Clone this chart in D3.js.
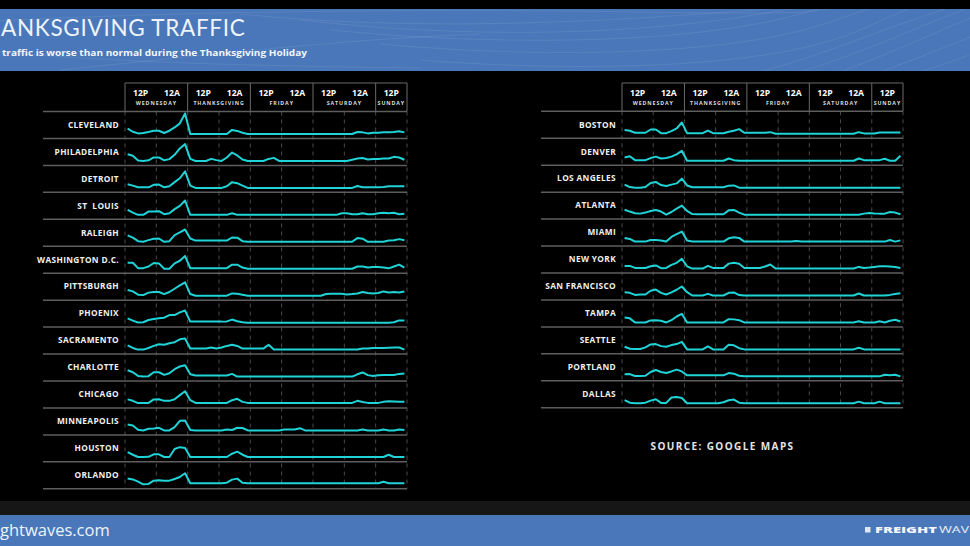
<!DOCTYPE html>
<html>
<head>
<meta charset="utf-8">
<script src="https://cdn.jsdelivr.net/npm/d3@7"></script>
<style>
  html, body { margin: 0; padding: 0; background: #000; overflow: hidden; }
  svg { display: block; }
</style>
</head>
<body>
<svg id="chart" width="970" height="546"></svg>
<script>
// Thanksgiving traffic - small multiples of congestion per city

// sample hours, every 2h from Wednesday morning to Sunday afternoon
const HOURS = [1, 3, 5, 7, 9, 11, 13, 15, 17, 19, 21, 23,
  25, 27, 29, 31, 33, 35, 37, 39, 41, 43, 45, 47,
  49, 51, 53, 55, 57, 59, 61, 63, 65, 67, 69, 71,
  73, 75, 77, 79, 81, 83, 85, 87, 89, 91, 93, 95,
  97, 99, 101, 103, 105, 107];

const GRID_HOURS = [0, 12, 24, 36, 48, 60, 72, 84, 96, 108];
const DAY_BOUNDS = [0, 24, 48, 72, 96, 108];
const TICK_HOURS = [6, 18, 30, 42, 54, 66, 78, 90, 102];
const TICK_LABELS = ['12P', '12A', '12P', '12A', '12P', '12A', '12P', '12A', '12P'];
const DAY_LABELS = ['WEDNESDAY', 'THANKSGIVING', 'FRIDAY', 'SATURDAY', 'SUNDAY'];

const LEFT_CITIES = ['CLEVELAND', 'PHILADELPHIA', 'DETROIT', 'ST  LOUIS', 'RALEIGH',
  'WASHINGTON D.C.', 'PITTSBURGH', 'PHOENIX', 'SACRAMENTO', 'CHARLOTTE',
  'CHICAGO', 'MINNEAPOLIS', 'HOUSTON', 'ORLANDO'];
const RIGHT_CITIES = ['BOSTON', 'DENVER', 'LOS ANGELES', 'ATLANTA', 'MIAMI',
  'NEW YORK', 'SAN FRANCISCO', 'TAMPA', 'SEATTLE', 'PORTLAND', 'DALLAS'];

// congestion level (0 = free flow), one row per day: Wed, Thu, Fri, Sat, Sun
const CLEVELAND = [
  2.6, 1.1, 0.3, 0.5, 1.0, 1.6, 1.6, 0.5, 1.6, 3.2, 5.2, 10,
  0, 0, 0, 0, 0, 0, 0, 0, 2.0, 1.5, 0.6, 0,
  0, 0, 0, 0, 0, 0, 0, 0, 0, 0, 0, 0,
  0, 0, 0, 0, 0, 0, 0, 0, 1.0, 0.8, 0.3, 0.6,
  0.6, 0.8, 0.8, 1.0, 1.3, 0.8];
const PHILADELPHIA = [
  3.3, 2.5, 0.2, 0, 0.3, 1.7, 1.7, 0.3, 0.9, 3.0, 6.1, 8.2,
  1.0, 0, 0, 0, 1.0, 0.4, 0, 1.7, 4.1, 2.7, 0.7, 0,
  0, 0, 0, 1.0, 1.5, 0, 0, 0, 0, 0, 0, 0,
  0, 0, 0, 0, 0, 0, 0, 0.6, 1.2, 1.4, 0.7, 1.0,
  1.0, 1.2, 1.2, 2.0, 1.7, 0.6];
const DETROIT = [
  1.8, 1.1, 0.3, 0.3, 0.3, 1.5, 1.6, 0.3, 0.8, 2.8, 4.7, 8.1,
  1.1, 0, 0, 0, 0, 0, 0, 0.8, 2.8, 2.3, 1.1, 0,
  0, 0, 0, 0, 0, 0, 0, 0, 0, 0, 0, 0,
  0, 0, 0, 0, 0, 0, 0, 0, 0.9, 0.3, 0.3, 0.3,
  0.3, 0.4, 0.8, 0.8, 0.8, 0.8];
const ST_LOUIS = [
  2.4, 1.1, 0, 0, 1.6, 1.6, 1.8, 0.3, 0.8, 2.8, 4.4, 7.0,
  0, 0, 0, 0, 0, 0, 0, 0, 0.8, 0, 0, 0,
  0, 0, 0, 0, 0, 0, 0, 0, 0, 0, 0, 0,
  0, 0, 0, 0, 0, 0.8, 0.8, 0.3, 0.3, 0.8, 0.3, 0.3,
  0.8, 1.0, 0.8, 1.0, 0.3, 0.5];
const RALEIGH = [
  3.1, 2.0, 0.3, 0, 0.8, 1.5, 1.6, 0, 0.3, 3.3, 4.6, 6.0,
  1.6, 0.6, 0.6, 0.6, 0.6, 0.6, 0.6, 0.6, 2.1, 2.0, 0.3, 0,
  0, 0, 0, 0, 0, 0, 0, 0, 0, 0, 0, 0,
  0, 0, 0, 0, 0, 0, 0, 0, 1.8, 1.5, 0, 0,
  0, 0, 0.6, 0.8, 1.3, 0.8];
const WASHINGTON = [
  2.9, 2.9, 0.3, 0.3, 1.1, 2.8, 2.6, 0, 0, 2.6, 3.9, 6.2,
  0.3, 0.3, 0.3, 0.3, 0.3, 0.3, 0.3, 0.3, 2.0, 2.0, 0.6, 0,
  0, 0, 0, 0, 0, 0, 0, 0, 0, 0, 0, 0,
  0, 0, 0, 0, 0, 0, 0, 0, 1.1, 1.1, 0.6, 0.8,
  0.8, 0.6, 0.2, 1.1, 2.0, 0.6];
const PITTSBURGH = [
  2.8, 2.1, 0.5, 0.3, 1.5, 1.8, 1.8, 0.8, 1.8, 3.4, 5.0, 6.5,
  0.8, 0, 0, 0, 0, 0, 0, 0, 1.1, 1.0, 0.5, 0,
  0, 0, 0, 0, 0, 0, 0, 0, 0, 0, 0, 0,
  0, 0, 0.8, 0.9, 0.9, 1.0, 0.6, 0.8, 1.1, 1.8, 1.3, 1.1,
  1.3, 2.1, 1.6, 1.8, 1.6, 2.0];
const PHOENIX = [
  2.1, 1.0, 0.1, 0.2, 1.3, 1.8, 2.1, 2.4, 3.7, 3.7, 5.0, 5.9,
  0.5, 0.5, 0.5, 0.5, 0.5, 0.5, 0.5, 0.6, 1.5, 0.7, 0.2, 0,
  0, 0, 0, 0, 0, 0, 0, 0, 0, 0, 0, 0,
  0, 0, 0, 0, 0, 0, 0, 0, 0, 0, 0, 0,
  0, 0, 0, 0.2, 1.1, 1.0];
const SACRAMENTO = [
  2.1, 0.8, 0, 0, 0.8, 1.8, 2.6, 2.4, 3.1, 3.6, 5.0, 5.4,
  0.5, 0.5, 0.5, 0.5, 1.0, 0.5, 1.0, 1.8, 2.4, 1.8, 0.5, 0.5,
  0.5, 0.5, 0.5, 2.4, 0, 0, 0, 0, 0, 0, 0, 0,
  0, 0, 0, 0, 0, 0, 0, 0, 0, 0.5, 0.5, 0.8,
  0.8, 0.8, 0.9, 1.0, 1.0, 0];
const CHARLOTTE = [
  3.1, 2.1, 0.3, 0, 0.2, 2.1, 2.1, 0.8, 1.6, 3.6, 4.9, 5.5,
  1.1, 0.5, 0.5, 0.5, 0.5, 0.5, 0.5, 0.5, 1.3, 0, 0, 0,
  0, 0, 0, 0, 0, 0, 0, 0, 0, 0, 0, 0,
  0, 0, 0, 0, 0, 0, 0, 0, 1.1, 2.0, 0.7, 0.3,
  0.6, 0.8, 0.8, 0.8, 1.3, 1.5];
const CHICAGO = [
  2.0, 1.3, 0.2, 0.2, 0.3, 2.0, 2.1, 1.3, 1.3, 2.1, 4.1, 6.0,
  1.6, 0.3, 0.3, 0.3, 0.3, 0.3, 0.3, 0.3, 1.6, 2.3, 0.8, 0.3,
  0.3, 0.3, 0.3, 0.3, 0.3, 0.3, 0.3, 0.3, 0.3, 0.3, 0.3, 0.3,
  0.3, 0.3, 0.3, 0.3, 0.3, 0.3, 0.3, 0.3, 1.3, 0.7, 0.3, 0.3,
  0.3, 0.8, 1.1, 1.0, 0.9, 0.8];
const MINNEAPOLIS = [
  2.9, 2.4, 0.3, 0, 0.8, 1.0, 1.3, 0, 0, 1.6, 4.7, 4.9,
  0.2, 0, 0, 0, 0, 0, 0, 0.5, 0.2, 1.3, 1.2, 0,
  0, 0, 0, 0, 0, 0, 0.5, 0.5, 0.5, 1.1, 0, 0,
  0, 0, 0, 0, 0, 0, 0, 0, 0, 0.5, 0, 0,
  0, 0.5, 0, 0, 0.5, 0.2];
const HOUSTON = [
  2.6, 1.3, 0.2, 0.2, 0.3, 1.5, 1.5, 0.2, 0.2, 4.1, 5.0, 4.6,
  0.2, 0.2, 0.2, 0.2, 0.2, 0.2, 0.2, 0.2, 1.8, 2.8, 1.3, 0.2,
  0.2, 0.2, 0.2, 0.2, 0.2, 0.2, 0.2, 0.2, 0.2, 0.2, 0.2, 0.2,
  0.2, 0.2, 0.2, 0.2, 0.2, 0.2, 0.2, 0.2, 0.2, 0.2, 0.2, 0.2,
  0.2, 0.2, 1.3, 0.2, 0.2, 0.2];
const ORLANDO = [
  2.8, 2.4, 1.3, 0, 0.2, 1.8, 2.0, 1.8, 1.8, 2.6, 3.6, 5.4,
  0.5, 0.5, 0.5, 0.5, 0.5, 0.5, 0.5, 0.8, 2.3, 2.8, 0.8, 0.5,
  0.5, 0.5, 0.5, 0.5, 0.5, 0.5, 0.5, 0.5, 0.5, 0.5, 0.5, 0.5,
  0.5, 0.5, 0.5, 0.5, 0.5, 0.5, 0.5, 0.5, 0.5, 0.5, 0.5, 0.5,
  0.5, 1.3, 0.5, 0.5, 0.5, 0.5];

const BOSTON = [
  1.8, 1.5, 0.5, 0.5, 0.5, 2.1, 2.1, 0.3, 0.3, 1.3, 2.6, 5.5,
  0.3, 0.3, 0.3, 0.3, 1.6, 0.3, 0.3, 0.3, 1.0, 1.5, 2.3, 0.5,
  0.5, 0.5, 0.5, 0.5, 0.8, 0, 0, 0, 0, 0, 0, 0,
  0, 0, 0, 0, 0, 0, 0, 0, 0, 0.8, 0.2, 0.2,
  0.2, 0.6, 0.6, 0.6, 0.6, 0.6];
const DENVER = [
  1.6, 2.2, 0.3, 0.3, 0.3, 1.3, 2.0, 1.1, 1.3, 2.0, 3.1, 4.9,
  0, 0, 0, 0, 0, 0, 0, 0, 1.1, 0.3, 0, 0,
  0, 0, 0, 0, 0, 0, 0, 0, 0, 0, 0, 0,
  0, 0, 0, 0, 0, 0, 0, 0, 0, 1.1, 0.3, 0.3,
  0.3, 0.3, 1.0, 0, 0, 2.4];
const LOS_ANGELES = [
  1.5, 0.3, 0, 0, 0.3, 2.3, 2.8, 1.3, 0.8, 1.5, 2.1, 4.4,
  1.1, 0.2, 0.2, 0.2, 0.2, 0.2, 0.2, 0.2, 1.0, 1.1, 0, 0,
  0, 0, 0, 0, 0, 0, 0, 0, 0, 0, 0, 0,
  0, 0, 0, 0, 0, 0, 0, 0, 0, 0, 0, 0,
  0, 0, 0, 0, 0, 0];
const ATLANTA = [
  2.4, 1.5, 0.7, 0.5, 1.0, 1.8, 2.3, 1.5, 0, 1.3, 2.9, 4.4,
  1.8, 0.3, 0.2, 0.2, 0.2, 0.2, 0.2, 0.2, 2.1, 2.3, 1.0, 0,
  0, 0, 0, 0, 0, 0, 0, 0, 0, 0, 0, 0,
  0, 0, 0, 0, 0, 0, 0, 0, 0, 0, 0.5, 0.8,
  0.6, 0.5, 0.5, 1.3, 1.0, 0.2];
const MIAMI = [
  1.8, 1.3, 0, 0, 0, 0.8, 0.8, 0.5, 0, 2.3, 3.6, 4.9,
  0.5, 0, 0, 0, 0, 0, 0, 0, 1.6, 2.1, 1.8, 0,
  0, 0, 0, 0, 0, 0, 0, 0, 0, 0.3, 0, 0,
  0, 0, 0, 0, 0, 0, 0, 0, 0, 0, 0, 0,
  0, 0, 0, 0.8, 0, 0.6];
const NEW_YORK = [
  1.3, 1.3, 0.3, 0.3, 0.3, 1.1, 1.5, 0.2, 0.3, 1.8, 2.8, 4.7,
  1.1, 0, 0, 0, 1.3, 0.3, 0.3, 0.3, 2.4, 2.8, 2.3, 0.3,
  0.3, 0.3, 0.3, 1.0, 2.0, 0, 0, 0, 0, 0, 0, 0,
  0, 0, 0, 0, 0, 0, 0, 0, 0, 0.8, 0.3, 0.5,
  0.8, 1.1, 1.1, 1.0, 0.8, 0.3];
const SAN_FRANCISCO = [
  1.6, 1.3, 0.3, 0.5, 0.5, 2.3, 2.9, 1.3, 0.5, 1.5, 2.8, 4.4,
  1.6, 0, 0, 0, 0.8, 0, 0, 0, 1.3, 1.5, 0.2, 0,
  0, 0, 0, 0, 0, 0, 0, 0, 0, 0, 0, 0,
  0, 0, 0, 0, 0, 0, 0, 0, 0, 1.0, 0, 0,
  0, 0, 0, 0.3, 0.7, 1.1];
const TAMPA = [
  2.4, 2.0, 0, 0, 0, 1.0, 1.1, 0.8, 0, 1.1, 2.9, 4.2,
  0, 0, 0, 0, 0, 0, 0, 0, 1.6, 1.5, 1.1, 0,
  0, 0, 0, 0, 0, 0, 0, 0, 0, 0, 0, 0,
  0, 0, 0, 0, 0, 0, 0, 0, 0, 0.6, 0, 0,
  0, 0.6, 0, 0.8, 1.3, 0.5];
const SEATTLE = [
  1.3, 0.3, 0.2, 0.2, 1.0, 2.4, 2.6, 1.6, 1.3, 2.1, 2.6, 3.7,
  0, 0, 0, 0, 1.5, 0, 0, 0, 2.3, 2.0, 0.6, 0,
  0, 0, 0, 0, 0, 0, 0, 0, 0, 0, 0, 0,
  0, 0, 0, 0, 0, 0, 0, 0, 0, 0.8, 0, 0,
  0, 0, 0, 0, 0, 0];
const PORTLAND = [
  1.0, 1.1, 0.2, 0.2, 0.3, 2.1, 3.1, 2.1, 1.6, 2.4, 3.3, 2.4,
  0.5, 0.5, 0.5, 0.5, 0.5, 0.5, 0.5, 0.5, 1.6, 1.3, 0.3, 0,
  0, 0, 0, 0, 0, 0, 0, 0, 0, 0, 0, 0,
  0, 0, 0, 0, 0, 0, 0, 0, 0, 0, 0, 0,
  0, 0, 0.8, 0.5, 0.8, 0];
const DALLAS = [
  1.6, 0.3, 0, 0, 0.3, 1.3, 2.0, 0.2, 0.2, 2.8, 3.1, 2.6,
  0, 0, 0, 0, 0, 0, 0, 0.5, 1.5, 1.8, 0.3, 0,
  0, 0, 0, 0, 0, 0, 0, 0, 0, 0, 0, 0,
  0, 0, 0, 0, 0, 0, 0, 0, 0, 0.8, 0, 0,
  0, 0.8, 0, 0, 0, 0];

const SERIES = {
  'CLEVELAND': CLEVELAND, 'PHILADELPHIA': PHILADELPHIA, 'DETROIT': DETROIT,
  'ST  LOUIS': ST_LOUIS, 'RALEIGH': RALEIGH, 'WASHINGTON D.C.': WASHINGTON,
  'PITTSBURGH': PITTSBURGH, 'PHOENIX': PHOENIX, 'SACRAMENTO': SACRAMENTO,
  'CHARLOTTE': CHARLOTTE, 'CHICAGO': CHICAGO, 'MINNEAPOLIS': MINNEAPOLIS,
  'HOUSTON': HOUSTON, 'ORLANDO': ORLANDO,
  'BOSTON': BOSTON, 'DENVER': DENVER, 'LOS ANGELES': LOS_ANGELES,
  'ATLANTA': ATLANTA, 'MIAMI': MIAMI, 'NEW YORK': NEW_YORK,
  'SAN FRANCISCO': SAN_FRANCISCO, 'TAMPA': TAMPA, 'SEATTLE': SEATTLE,
  'PORTLAND': PORTLAND, 'DALLAS': DALLAS
};

const LINE_COLOR = '#1fd3d6';
const BLUE = '#4a77b9';
const FONT = "'Open Sans', 'DejaVu Sans', sans-serif";

const svg = d3.select('#chart');

// background bands
svg.append('rect').attr('x', 0).attr('y', 0).attr('width', 970).attr('height', 546).attr('fill', '#000');
svg.append('rect').attr('x', 0).attr('y', 9).attr('width', 970).attr('height', 62).attr('fill', BLUE);
svg.append('rect').attr('x', 0).attr('y', 501).attr('width', 970).attr('height', 14).attr('fill', '#161616');
svg.append('rect').attr('x', 0).attr('y', 515).attr('width', 970).attr('height', 31).attr('fill', BLUE);

// faint contour lines in the header
svg.append('clipPath').attr('id', 'hdr-clip')
  .append('rect').attr('x', 0).attr('y', 9).attr('width', 970).attr('height', 62);
const deco = svg.append('g')
  .attr('clip-path', 'url(#hdr-clip)')
  .attr('fill', 'none')
  .attr('stroke', '#ffffff')
  .attr('stroke-opacity', 0.1)
  .attr('stroke-width', 0.8);
[
  'M -20 22 C 150 12, 420 8, 640 12 S 800 8, 830 10',
  'M 240 14 C 400 30, 560 24, 700 14 S 790 8, 810 9',
  'M 300 20 C 480 40, 640 34, 760 14 S 830 6, 850 9',
  'M 330 30 C 520 48, 700 42, 800 14 S 860 6, 880 9',
  'M 380 44 C 560 60, 740 54, 830 22 S 890 8, 905 9',
  'M 420 60 C 600 74, 780 66, 860 30 S 910 10, 925 9',
  'M 760 72 C 820 56, 880 30, 945 9',
  'M 800 72 C 860 54, 910 30, 965 9',
  'M 840 72 C 890 54, 940 30, 985 12',
  'M 880 72 C 920 58, 950 44, 990 30',
  'M 920 72 C 945 64, 965 56, 990 48',
  'M -20 50 C 100 62, 250 66, 420 68',
  'M 60 70 C 200 56, 330 40, 480 34'
].forEach(d => deco.append('path').attr('d', d));

// title and subtitle (the slide is cropped at the left edge)
svg.append('text')
  .attr('x', 1)
  .attr('y', 36)
  .attr('font-family', "Lato, 'Open Sans', sans-serif")
  .attr('font-size', 22.5)
  .attr('letter-spacing', 0.7)
  .attr('fill', '#eef3fb')
  .text('ANKSGIVING TRAFFIC');

svg.append('text')
  .attr('x', 2)
  .attr('y', 55.5)
  .attr('font-family', FONT)
  .attr('font-weight', 700)
  .attr('font-size', 9.6)
  .attr('textLength', 305)
  .attr('lengthAdjust', 'spacingAndGlyphs')
  .attr('fill', '#f2f5fa')
  .text('traffic is worse than normal during the Thanksgiving Holiday');

// footer
svg.append('text')
  .attr('x', 0)
  .attr('y', 536)
  .attr('font-family', FONT)
  .attr('font-size', 16.5)
  .attr('fill', '#eef3fb')
  .text('ghtwaves.com');

svg.append('rect').attr('x', 865).attr('y', 527).attr('width', 5.5).attr('height', 5.5)
  .attr('fill', '#dde6f2');
svg.append('text')
  .attr('x', 875)
  .attr('y', 533)
  .attr('font-family', FONT)
  .attr('font-weight', 800)
  .attr('font-size', 8.2)
  .attr('textLength', 62)
  .attr('lengthAdjust', 'spacingAndGlyphs')
  .attr('fill', '#f2f5fa')
  .text('FREIGHT');
svg.append('text')
  .attr('x', 939)
  .attr('y', 533)
  .attr('font-family', FONT)
  .attr('font-weight', 400)
  .attr('font-size', 8.2)
  .attr('textLength', 30)
  .attr('lengthAdjust', 'spacingAndGlyphs')
  .attr('fill', '#e6edf6')
  .text('WAV');

// source note
svg.append('text')
  .attr('x', 722.5)
  .attr('y', 450)
  .attr('text-anchor', 'middle')
  .attr('font-family', FONT)
  .attr('font-weight', 700)
  .attr('font-size', 10)
  .attr('letter-spacing', 1.4)
  .attr('fill', '#e4e4e4')
  .text('SOURCE: GOOGLE MAPS');

function drawPanel(cfg, cities) {
  const rowH = 26.95;
  const g = svg.append('g');
  const x = d3.scaleLinear().domain([0, 108]).range([cfg.x0, cfg.x1]);
  const y = d3.scaleLinear().domain([0, 10]).range([22.5, 2]);
  const bottom = cfg.rowsTop + cities.length * rowH;

  // header box
  g.append('line')
    .attr('x1', cfg.x0).attr('x2', cfg.x1)
    .attr('y1', cfg.headTop).attr('y2', cfg.headTop)
    .attr('stroke', '#6a6a6a').attr('stroke-width', 1);
  g.selectAll('.day-div')
    .data(DAY_BOUNDS)
    .enter()
    .append('line')
    .attr('class', 'day-div')
    .attr('x1', d => x(d)).attr('x2', d => x(d))
    .attr('y1', cfg.headTop).attr('y2', cfg.rowsTop)
    .attr('stroke', '#6a6a6a').attr('stroke-width', 1);

  g.selectAll('.tick-label')
    .data(TICK_HOURS)
    .enter()
    .append('text')
    .attr('class', 'tick-label')
    .attr('x', d => x(d))
    .attr('y', cfg.headTop + 12.8)
    .attr('text-anchor', 'middle')
    .attr('font-family', FONT)
    .attr('font-weight', 700)
    .attr('font-size', 8.6)
    .attr('fill', '#ffffff')
    .text((d, i) => TICK_LABELS[i]);

  g.selectAll('.day-label')
    .data(DAY_LABELS)
    .enter()
    .append('text')
    .attr('class', 'day-label')
    .attr('x', (d, i) => (x(DAY_BOUNDS[i]) + x(DAY_BOUNDS[i + 1])) / 2)
    .attr('y', cfg.headTop + 22.3)
    .attr('text-anchor', 'middle')
    .attr('font-family', FONT)
    .attr('font-weight', 700)
    .attr('font-size', 5.3)
    .attr('letter-spacing', 0.9)
    .attr('fill', '#dcdcdc')
    .text(d => d);

  // dashed 12-hour grid
  g.selectAll('.grid-line')
    .data(GRID_HOURS)
    .enter()
    .append('line')
    .attr('class', 'grid-line')
    .attr('x1', d => x(d)).attr('x2', d => x(d))
    .attr('y1', cfg.rowsTop).attr('y2', bottom)
    .attr('stroke', '#4a4a4a')
    .attr('stroke-width', 1)
    .style('stroke-dasharray', '4,4');

  // row separators
  g.selectAll('.sep')
    .data(d3.range(cities.length + 1))
    .enter()
    .append('line')
    .attr('class', 'sep')
    .attr('x1', cfg.sepX).attr('x2', cfg.x1)
    .attr('y1', i => cfg.rowsTop + i * rowH)
    .attr('y2', i => cfg.rowsTop + i * rowH)
    .attr('stroke', '#5e5e5e')
    .attr('stroke-width', 1.5);

  const line = d3.line()
    .x((d, i) => x(HOURS[i]))
    .y(d => y(d))
    .curve(d3.curveLinear);

  const rows = g.selectAll('.row')
    .data(cities)
    .enter()
    .append('g')
    .attr('class', 'row')
    .attr('transform', (d, i) => `translate(0,${cfg.rowsTop + i * rowH})`);

  rows.append('text')
    .attr('x', cfg.labelX)
    .attr('y', 16.3)
    .attr('text-anchor', 'end')
    .attr('font-family', FONT)
    .attr('font-weight', 700)
    .attr('font-size', 8.3)
    .attr('letter-spacing', 0.35)
    .attr('fill', '#f0f0f0')
    .style('white-space', 'pre')
    .text(d => d);

  rows.append('path')
    .attr('d', d => line(SERIES[d]))
    .attr('fill', 'none')
    .attr('stroke', LINE_COLOR)
    .attr('stroke-width', 2)
    .attr('stroke-linejoin', 'round');
}

drawPanel({ x0: 125, x1: 407, sepX: 43, labelX: 119, headTop: 83, rowsTop: 111.5 }, LEFT_CITIES);
drawPanel({ x0: 622, x1: 903, sepX: 541, labelX: 616, headTop: 83, rowsTop: 111.3 }, RIGHT_CITIES);
</script>
</body>
</html>
